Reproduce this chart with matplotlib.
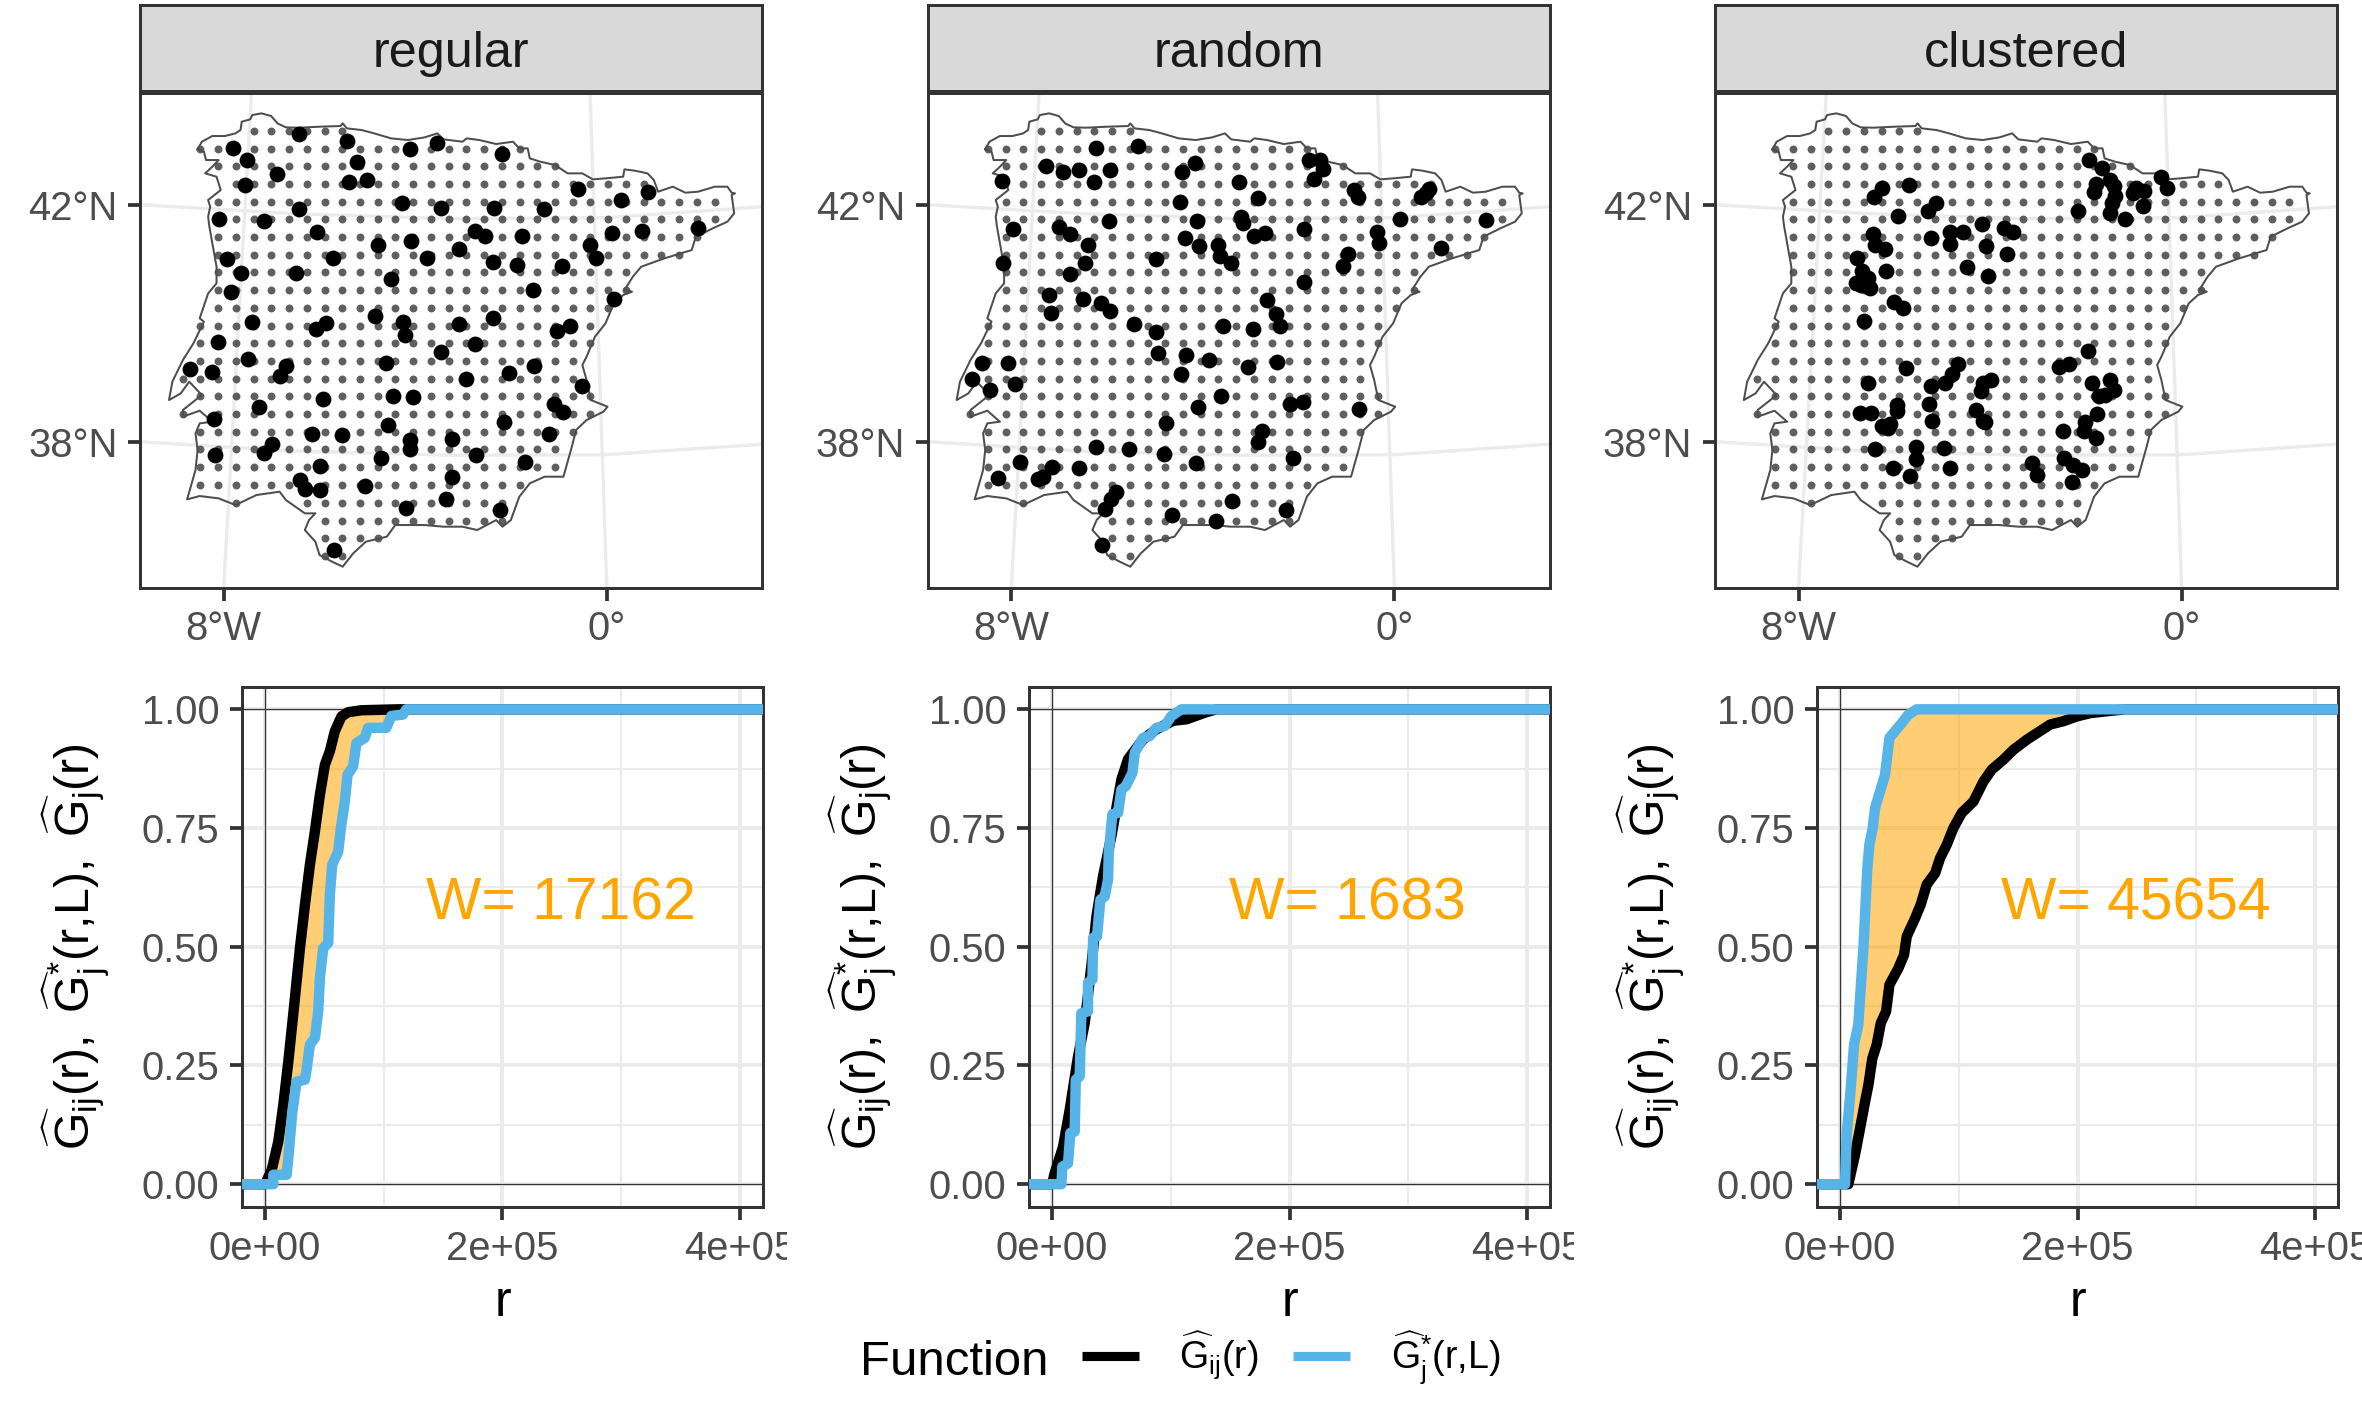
import numpy as np
import matplotlib
matplotlib.use('Agg')
import matplotlib.pyplot as plt
from matplotlib.lines import Line2D
from matplotlib.transforms import Bbox

plt.rcParams.update({'font.family': 'Liberation Sans',
                     'mathtext.fontset': 'custom',
                     'mathtext.rm': 'Liberation Sans',
                     'mathtext.it': 'Liberation Sans',
                     'mathtext.bf': 'Liberation Sans',
                     'mathtext.default': 'regular'})

W, H = 2362, 1417
DPI = 300

panel_names = ['regular', 'random', 'clustered']
w_labels = ['W= 17162', 'W= 1683', 'W= 45654']
map_left = [140, 927.6, 1714.8]
ecdf_left = [242, 1029, 1817]
ecdf_clip = [787, 1574, 2362]

################################
### map layers
################################
# coast, read in zoom units
coast_x = [160, 170, 195, 225, 250, 262, 265, 285, 290, 312, 335, 350, 370, 400, 450, 500, 505, 515, 550, 580,
           620, 660, 700, 730, 745, 790, 800, 830, 870, 910, 925, 945, 950, 975, 1010, 1040, 1075, 1100, 1130,
           1172, 1175, 1200, 1230, 1245, 1255, 1290, 1320, 1350, 1390, 1420, 1430, 1438, 1430, 1436, 1420, 1385,
           1345, 1335, 1270, 1215, 1195, 1175, 1193, 1172, 1150, 1130, 1105, 1085, 1075, 1085, 1095, 1135, 1125,
           1085, 1060, 1050, 1030, 985, 950, 925, 905, 885, 870, 825, 790, 745, 700, 630, 610, 560, 530, 505,
           480, 450, 440, 415, 425, 440, 415, 370, 355, 300, 250, 210, 165, 135, 155, 160, 155, 165, 195, 165,
           125, 125, 170, 140, 120, 92, 100, 125, 150, 175, 165, 185, 205, 205, 195, 188, 185, 190, 185, 215,
           205, 178, 195, 210, 180, 175, 160]
coast_y = [208, 185, 168, 168, 160, 150, 125, 118, 105, 100, 108, 130, 142, 143, 140, 138, 130, 145, 150, 160,
           175, 180, 172, 160, 178, 185, 175, 180, 192, 185, 205, 205, 235, 245, 255, 280, 280, 298, 295,
           290, 268, 272, 280, 300, 335, 320, 338, 335, 320, 320, 338, 340, 345, 400, 425, 445,
           470, 510, 535, 560, 590, 630, 635, 645, 670, 730, 770, 830, 855, 900, 960, 980, 995,
           1020, 1050, 1100, 1190, 1190, 1210, 1250, 1320, 1340, 1320, 1350, 1340, 1340, 1335, 1335, 1370, 1385, 1420, 1460,
           1445, 1425, 1385, 1350, 1320, 1300, 1300, 1260, 1235, 1245, 1275, 1255, 1248, 1258, 1170, 1110, 1060, 1030, 1025, 992,
           1010, 990, 945, 905, 940, 960, 905, 840, 790, 725, 715, 640, 610, 560, 490, 440, 410, 380, 360, 330,
           290, 280, 260, 240, 240, 215, 208]

# prediction grid, read in zoom units
grid_col_x = [136, 178, 220, 262, 304, 346, 388, 430, 472, 514, 556, 598, 640, 682, 724, 766,
              808, 850, 892, 934, 976, 1018, 1060, 1102, 1144, 1186, 1228, 1270, 1312, 1354, 1396]
grid_row_y = [122, 176, 229, 282, 335, 388, 441, 494, 547, 600, 654, 707, 760, 813, 866, 919,
              972, 1025, 1078, 1131, 1185, 1238, 1292, 1344, 1397]
# first and last occupied column of every row, two spans where the row is broken
grid_spans = [[(4, 9)], [(1, 19)], [(2, 21)], [(3, 26)], [(2, 30)], [(2, 30)], [(2, 29)], [(2, 28)], [(2, 25)],
              [(2, 25)], [(2, 24)], [(1, 23)], [(1, 23)], [(1, 22)], [(0, 22)], [(1, 23)], [(0, 0), (2, 23)],
              [(1, 22)], [(1, 21)], [(1, 21)], [(1, 19)], [(3, 3), (7, 18)], [(8, 18)], [(8, 11)], [(8, 9)]]

# sampled stations of each panel, read in zoom units
regular_x = [401, 515, 243, 664, 730, 884, 278, 538, 349, 273, 521, 563, 1065, 1232, 1167, 400, 646, 740, 866, 983,
             212, 317, 445, 820, 843, 932, 1145, 1216, 1350, 590, 667, 781, 1092, 1107, 231, 481, 706, 862, 920, 1027,
             264, 394, 619, 240, 958, 1150, 583, 863, 289, 465, 442, 648, 653, 782, 1045, 1015, 209, 819, 739, 281,
             608, 370, 357, 143, 195, 960, 900, 799, 1074, 625, 672, 458, 1007, 1029, 307, 199, 888, 613, 433, 503,
             995, 665, 665, 764, 337, 319, 202, 823, 595, 938, 452, 766, 404, 416, 450, 558, 750, 656, 879, 484]
regular_y = [161, 183, 204, 207, 190, 221, 239, 246, 282, 314, 307, 301, 327, 336, 360, 387, 370, 383, 384, 387,
             417, 422, 455, 452, 467, 469, 459, 452, 445, 496, 482, 506, 495, 534, 537, 534, 534, 546, 556, 559,
             578, 578, 598, 637, 631, 657, 708, 713, 725, 730, 748, 727, 764, 731, 737, 753, 786, 791, 816, 838,
             850, 857, 889, 867, 875, 859, 878, 896, 917, 947, 951, 958, 973, 997, 981, 1017, 1025, 1034, 1063, 1065,
             1061, 1080, 1108, 1078, 1091, 1118, 1125, 1124, 1135, 1147, 1158, 1191, 1199, 1227, 1231, 1218, 1256, 1283, 1290, 1411]

random_x = [406, 511, 284, 327, 366, 442, 402, 649, 617, 929, 955, 962, 941, 177, 757, 1040, 1050, 1222, 1215, 1204,
            805, 613, 763, 766, 654, 438, 1152, 1363, 203, 315, 344, 917, 820, 795, 1096, 1100, 625, 659, 706, 710,
            737, 387, 1253, 1025, 1013, 379, 179, 555, 343, 917, 292, 374, 418, 442, 297, 826, 847, 858, 499, 718,
            791, 555, 558, 627, 683, 127, 190, 850, 780, 615, 102, 208, 146, 712, 657, 883, 913, 1052, 579, 813,
            804, 408, 487, 574, 889, 653, 220, 298, 366, 278, 264, 167, 455, 443, 428, 740, 592, 872, 700, 421]
random_y = [175, 167, 227, 247, 239, 240, 277, 220, 246, 211, 211, 238, 266, 273, 277, 299, 320, 297, 310, 320,
            323, 337, 380, 398, 392, 394, 388, 390, 416, 412, 433, 416, 430, 438, 427, 458, 445, 467, 464, 497,
            518, 466, 475, 491, 529, 518, 518, 506, 552, 577, 616, 627, 640, 664, 670, 630, 673, 708, 702, 707,
            717, 726, 790, 795, 810, 819, 819, 816, 830, 853, 866, 883, 899, 918, 950, 942, 935, 957, 1000, 1023,
            1055, 1071, 1077, 1092, 1105, 1120, 1117, 1132, 1133, 1160, 1167, 1165, 1207, 1228, 1256, 1234, 1274, 1260, 1293, 1364]

clustered_x = [922, 951, 1091, 1105, 938, 934, 972, 980, 982, 976, 972, 1032, 1052, 1025, 1050, 1007, 896, 432, 413, 495,
               560, 540, 468, 667, 720, 741, 409, 415, 438, 592, 622, 547, 593, 677, 727, 371, 633, 681, 441, 384,
               398, 370, 382, 402, 459, 481, 388, 918, 611, 875, 851, 488, 596, 399, 580, 547, 690, 670, 666, 970,
               928, 980, 960, 944, 466, 466, 542, 379, 406, 653, 941, 549, 670, 676, 450, 432, 445, 911, 909, 860,
               938, 512, 577, 415, 512, 863, 787, 884, 905, 458, 593, 497, 799, 880]
clustered_y = [211, 234, 262, 295, 282, 305, 270, 288, 318, 340, 369, 295, 303, 310, 349, 386, 363, 294, 322, 285,
               339, 364, 377, 403, 415, 427, 431, 466, 477, 427, 426, 444, 462, 469, 491, 505, 530, 558, 543, 543,
               563, 578, 585, 595, 635, 654, 693, 782, 821, 821, 832, 835, 853, 880, 880, 889, 869, 880, 903, 870,
               878, 900, 915, 919, 945, 962, 941, 968, 968, 959, 972, 993, 993, 995, 1003, 1008, 1015, 995, 1023, 1023,
               1044, 1070, 1073, 1077, 1107, 1103, 1118, 1125, 1139, 1135, 1133, 1157, 1156, 1175]

# graticule, in panel pixels of the map
lon_lines_x = [[111.5, 83.7], [450.0, 466.8]]
lon_lines_y = [0, 495]
lat_lines_x = [0, 155, 311, 466, 622]
lat_lines_y = [[112.0, 121.0, 126.0, 125.0, 114.0], [349.0, 358.5, 362.5, 362.0, 351.5]]
map_xticks = [83.7, 466.8]
map_xticklabels = ['8°W', '0°']
map_yticks = [112.3, 349.3]
map_yticklabels = ['42°N', '38°N']

################################
### ECDF curves
################################
gij_r = [[-20000, 0, 5600, 11200, 15400, 19600, 24600, 29400, 33600, 37800, 42000, 46200, 50400, 54600, 58800,
          64400, 70000, 81200, 112000, 420000],
         [-20000, 0, 2200, 9300, 14900, 21900, 27500, 33100, 37400, 43000, 50000, 58400, 64000, 76700, 87900,
          102000, 113200, 130000, 138500, 420000],
         [-20000, 7000, 12600, 16900, 21100, 23900, 27200, 30900, 34300, 38800, 41600, 49200, 53900, 56200, 63200,
          68000, 73000, 80100, 84300, 89900, 95500, 102500, 112400, 120800, 127800, 137600, 146100, 157300, 167100,
          177000, 188200, 199400, 210700, 224700, 240200, 420000]]
gij_g = [[0, 0, .03, .09, .167, .258, .378, .497, .588, .673, .743, .82, .883, .912, .954,
          .985, .994, .998, 1, 1],
         [0, 0, .023, .079, .157, .269, .339, .459, .564, .649, .733, .852, .895, .937, .958,
          .976, .979, .994, 1, 1],
         [0, 0, .062, .118, .174, .209, .265, .294, .339, .364, .42, .455, .483, .522, .56,
          .589, .631, .655, .687, .715, .75, .782, .806, .848, .873, .894, .915, .936, .952,
          .968, .975, .985, .992, .996, 1, 1]]

gj_r = [[-20000, 7000, 7000, 18200, 19600, 23000, 26600, 33600, 35000, 37800, 42000, 44800, 46200, 49000, 53200,
         54600, 56600, 61600, 63900, 67200, 69500, 74200, 77000, 84000, 86800, 102200, 106400, 116200, 119000, 420000],
        [-20000, 7900, 8700, 13500, 15400, 19100, 20000, 23300, 24700, 30300, 30300, 34000, 34600, 37900, 40700,
         44400, 47200, 47800, 50800, 55600, 58400, 62100, 67700, 69700, 76700, 82300, 87900, 94900, 100600, 109000, 420000],
        [-20000, 4200, 5600, 9000, 11800, 15400, 17400, 19700, 21900, 23000, 24700, 27500, 29500, 33700, 37900,
         41600, 46300, 52000, 57600, 64600, 420000]]
gj_g = [[0, 0, .02, .02, .055, .153, .216, .22, .241, .294, .308, .364, .434, .497, .508,
         .61, .673, .70, .75, .806, .862, .88, .929, .94, .961, .961, .986, .989, 1, 1],
        [0, 0, .037, .044, .108, .111, .22, .227, .36, .364, .424, .431, .519, .522, .599,
         .606, .642, .698, .779, .782, .831, .838, .866, .909, .94, .944, .961, .965, .986, 1, 1],
        [0, 0, .104, .202, .294, .336, .413, .497, .61, .666, .715, .75, .792, .827, .862,
         .94, .954, .971, .989, 1, 1]]

ecdf_xticks = [0, 200000, 400000]
ecdf_xticklabels = ['0e+00', '2e+05', '4e+05']
ecdf_xminor = [100000, 300000]
ecdf_yticks = [0, .25, .5, .75, 1]
ecdf_yminor = [.125, .375, .625, .875]

ylabel_text = r'$\widehat{G}_{ij}(r),\ \widehat{G}_{j}^{*}(r{,}L),\ \widehat{G}_{j}(r)$'

################################
### helpers
################################
def px_axes(left, top, right, bottom):
    return fig.add_axes([left / W, 1 - bottom / H, (right - left) / W, (bottom - top) / H])

def style_axes(ax):
    for s in ax.spines.values():
        s.set_color('#333333')
        s.set_linewidth(0.72)
    ax.tick_params(which='major', length=3, width=0.9, color='#333333', labelcolor='#4d4d4d',
                   labelsize=9.6, pad=2.4)
    ax.tick_params(which='minor', length=0)

fig = plt.figure(figsize=(W / DPI, H / DPI), dpi=DPI)

# zoom readings to panel pixels
coast_mx = (np.array(coast_x) - 23) * 0.4205
coast_my = (np.array(coast_y) - 38) / 3.0
col_mx = (np.array(grid_col_x) - 35) * 0.4222
row_my = (np.array(grid_row_y) - 8) / 3.0
grid_mx = []
grid_my = []
for i, spans in enumerate(grid_spans):
    for c0, c1 in spans:
        for c in range(c0, c1 + 1):
            grid_mx.append(col_mx[c])
            grid_my.append(row_my[i])

station_mx = [(np.array(regular_x) - 23) * 0.4205,
              (np.array(random_x) + 5.9) * 0.408,
              (np.array(clustered_x) - 35) * 0.4222]
station_my = [(np.array(regular_y) - 38) / 3.0,
              (np.array(random_y) - 8) / 3.0,
              (np.array(clustered_y) - 8) / 3.0]

for i in range(3):
    ########## strip ##########
    sx = px_axes(map_left[i], 5, map_left[i] + 622, 91)
    sx.set_facecolor('#d9d9d9')
    sx.set_xticks([])
    sx.set_yticks([])
    style_axes(sx)
    sx.text(0.5, 0.432, panel_names[i], transform=sx.transAxes, ha='center', va='center',
            fontsize=12.1, color='#1a1a1a')

    ########## map ##########
    ax = px_axes(map_left[i], 92.7, map_left[i] + 622, 587.7)
    for xs in lon_lines_x:
        ax.plot(xs, lon_lines_y, color='#ebebeb', lw=0.8, zorder=1)
    for ys in lat_lines_y:
        ax.plot(lat_lines_x, ys, color='#ebebeb', lw=0.8, zorder=1)
    ax.plot(coast_mx, coast_my, color='#4d4d4d', lw=0.48, zorder=2)
    ax.plot(grid_mx, grid_my, 'o', color='#4d4d4d', ms=1.9, mew=0, alpha=0.9, zorder=3)
    ax.plot(station_mx[i], station_my[i], 'o', color='black', ms=3.8, mew=0, zorder=4)
    ax.set_xlim(0, 622)
    ax.set_ylim(495, 0)
    ax.set_xticks(map_xticks)
    ax.set_xticklabels(map_xticklabels)
    ax.set_yticks(map_yticks)
    ax.set_yticklabels(map_yticklabels)
    style_axes(ax)

    ########## ecdf ##########
    bx = px_axes(ecdf_left[i], 687, ecdf_left[i] + 521, 1207)
    bx.set_axisbelow(True)
    bx.set_xticks(ecdf_xticks)
    bx.set_xticklabels(ecdf_xticklabels)
    bx.set_xticks(ecdf_xminor, minor=True)
    bx.set_yticks(ecdf_yticks)
    bx.set_yticklabels(['%.2f' % v for v in ecdf_yticks])
    bx.set_yticks(ecdf_yminor, minor=True)
    bx.grid(which='major', color='#ebebeb', lw=0.95)
    bx.grid(which='minor', color='#ebebeb', lw=0.5)
    bx.axhline(0, color='#333333', lw=0.3, zorder=2)
    bx.axhline(1, color='#333333', lw=0.3, zorder=2)
    bx.axvline(0, color='#333333', lw=0.3, zorder=2)
    # area between the two curves, both end on the same points
    bx.fill(gij_r[i] + gj_r[i][::-1], gij_g[i] + gj_g[i][::-1], color='orange', alpha=0.55, lw=0, zorder=3)
    bx.plot(gij_r[i], gij_g[i], color='black', lw=2.5, zorder=4, solid_joinstyle='round')
    bx.plot(gj_r[i], gj_g[i], color='#56B4E9', lw=2.5, zorder=5, solid_joinstyle='round')
    bx.text(249000, 0.557, w_labels[i], color='orange', fontsize=14.1, ha='center', va='baseline', zorder=6)
    bx.set_xlim(-19400, 419400)
    bx.set_ylim(-0.048, 1.047)
    style_axes(bx)
    bx.set_xlabel('r', fontsize=12, va='center')
    bx.xaxis.set_label_coords(0.5, -0.185)
    bx.set_ylabel(ylabel_text, fontsize=11.6, va='center')
    bx.yaxis.set_label_coords(-0.319, 0.5)
    # right tick label runs over the edge of its own sub picture
    for t in bx.get_xticklabels():
        t.set_clip_box(Bbox([[0, 0], [ecdf_clip[i], H]]))
        t.set_clip_on(True)

################################
### legend
################################
fig.text(860 / W, 1 - 1362.5 / H, 'Function', fontsize=11.8, va='center', ha='left', color='black')
handles = [Line2D([], [], color='black', lw=2.2, solid_capstyle='butt'),
           Line2D([], [], color='#56B4E9', lw=2.2, solid_capstyle='butt')]
labels = [r'$\widehat{G}_{ij}(r)$', r'$\widehat{G}_{j}^{*}(r{,}L)$']
fig.legend(handles, labels, ncol=2, frameon=False, fontsize=9, loc='center left',
           bbox_to_anchor=(1081.6 / W, 1 - 1358 / H), borderaxespad=0, borderpad=0,
           handlelength=1.53, handletextpad=1.08, columnspacing=0.9)

fig.savefig('out.png', dpi=DPI)
